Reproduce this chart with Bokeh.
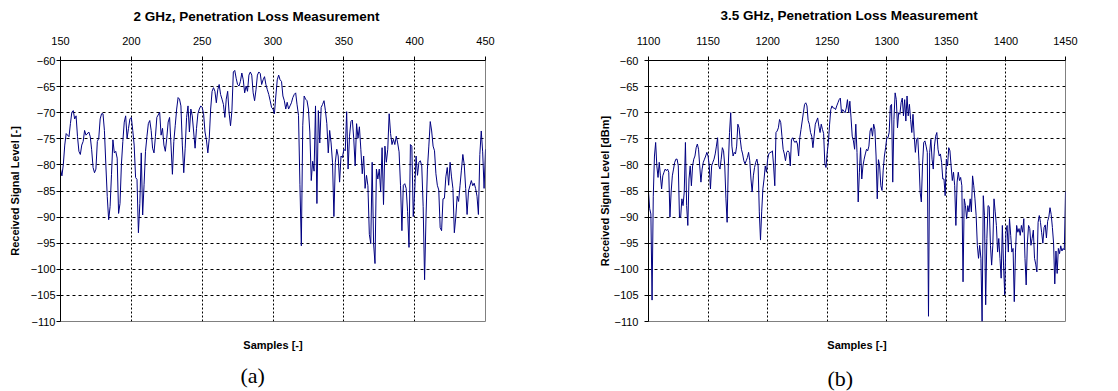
from bokeh.plotting import figure
from bokeh.layouts import row
from bokeh.models import FixedTicker, Range1d, LinearAxis, Title
from bokeh.embed import file_html
from bokeh.resources import INLINE

# ---------------- data ----------------
samples_a = [150,151,152,153,154,156,157,158,159,160,161,162,163,164,165,166,167,168,170,171,
             172,173,174,175,176,177,178,179,180,181,182,183,184,185,186,187,188,189,190,191,
             192,193,194,195,196,197,198,199,200,201,202,203,204,205,206,207,208,209,210,211,
             212,213,214,215,216,217,218,220,221,222,223,224,225,226,227,228,229,230,231,232,
             233,234,235,236,237,238,239,240,241,242,243,244,245,246,247,248,249,250,251,252,
             253,254,255,256,257,258,259,260,261,262,263,264,265,266,267,268,269,270,271,272,
             273,274,275,276,277,278,279,280,281,282,283,284,285,286,287,288,289,290,291,292,
             293,294,295,296,297,298,299,300,301,302,303,304,305,306,307,308,309,310,311,312,
             313,314,315,316,317,318,319,320,321,322,323,324,325,326,327,328,329,330,331,332,
             333,334,335,336,337,338,339,340,341,342,343,344,345,346,347,348,349,350,351,352,
             353,354,355,356,357,358,359,360,361,362,363,364,365,366,367,368,369,370,371,372,
             373,374,375,376,377,378,379,380,381,382,383,384,385,386,387,388,389,390,391,392,
             393,394,395,396,397,398,399,400,401,402,403,404,405,406,407,408,409,410,411,412,
             413,414,415,416,417,418,419,420,421,422,423,424,425,426,427,428,429,430,431,432,
             433,434,435,436,437,438,439,440,441,442,443,444,445,446,447,448,449,450]
level_a = [-80.8,-82.1,-79.9,-76.2,-74.0,-74.6,-72.1,-69.9,-69.6,-71.2,-70.6,-74.6,-77.4,-78.0,-76.2,-75.5,-73.4,-74.3,-73.7,-74.6,
           -77.1,-80.5,-81.5,-80.8,-75.5,-74.9,-71.2,-70.2,-70.2,-73.4,-79.9,-86.1,-90.5,-88.0,-81.8,-75.2,-77.7,-77.4,-78.7,-89.3,
           -87.4,-79.9,-75.5,-71.8,-70.6,-74.9,-73.0,-71.2,-70.9,-73.4,-76.2,-82.4,-82.8,-93.0,-87.4,-77.7,-89.6,-83.7,-77.4,-74.6,
           -72.1,-71.5,-73.4,-76.8,-77.7,-74.6,-70.9,-69.9,-74.3,-73.0,-76.2,-77.4,-74.9,-71.8,-70.9,-76.2,-81.8,-75.5,-72.4,-69.3,
           -67.1,-67.4,-68.7,-76.2,-81.5,-76.8,-70.9,-68.7,-73.7,-69.3,-70.6,-73.7,-76.8,-73.0,-70.2,-69.3,-68.7,-69.0,-70.2,-73.7,
           -75.2,-77.7,-74.9,-69.3,-65.9,-65.2,-65.9,-68.1,-65.6,-64.6,-66.5,-67.4,-68.4,-70.9,-67.4,-65.9,-70.0,-72.5,-69.6,-62.2,
           -61.9,-63.4,-64.6,-64.9,-64.0,-62.4,-63.7,-66.2,-64.9,-65.9,-62.8,-62.2,-62.8,-66.2,-67.7,-65.6,-62.8,-62.2,-62.5,-64.6,
           -63.7,-63.1,-64.6,-65.6,-66.5,-67.7,-69.0,-69.3,-70.2,-66.8,-63.7,-62.8,-63.7,-64.0,-66.8,-67.7,-69.3,-68.0,-69.3,-68.7,
           -68.1,-67.1,-66.5,-66.2,-68.5,-70.5,-83.7,-95.5,-72.4,-66.8,-67.4,-67.7,-69.3,-73.7,-83.0,-79.3,-81.2,-68.7,-87.4,-69.6,
           -75.8,-69.0,-68.4,-67.7,-69.6,-72.1,-77.7,-73.4,-75.8,-79.5,-89.9,-79.5,-77.0,-78.3,-83.3,-78.3,-78.6,-77.0,-77.3,-69.8,
           -80.8,-74.5,-71.7,-71.4,-75.0,-80.2,-72.1,-74.9,-72.7,-77.0,-81.7,-78.3,-84.5,-82.0,-84.0,-93.3,-95.1,-79.5,-95.1,-98.9,
           -80.8,-82.7,-80.8,-85.2,-76.7,-87.6,-76.4,-79.5,-77.0,-70.2,-74.0,-76.1,-75.1,-76.1,-74.5,-75.8,-77.5,-83.9,-92.6,-83.9,
           -83.6,-84.5,-88.9,-95.8,-76.1,-76.4,-89.9,-85.2,-78.3,-82.0,-79.5,-79.2,-80.2,-88.0,-102.0,-90.0,-80.8,-76.4,-71.7,-73.5,
           -76.4,-77.3,-81.7,-83.9,-84.8,-92.0,-92.6,-86.5,-86.4,-82.3,-80.5,-83.9,-79.5,-82.3,-84.5,-93.0,-90.0,-86.0,-87.0,-84.0,
           -81.0,-78.0,-80.0,-84.5,-89.5,-85.0,-84.0,-83.0,-84.0,-83.5,-84.5,-86.0,-89.5,-78.0,-73.5,-77.5,-84.5,-77.0]

samples_b = [1100,1101,1102,1103,1104,1105,1106,1107,1108,1109,1110,1111,1112,1113,1114,1115,1116,1117,1118,1119,
             1120,1121,1122,1123,1124,1125,1126,1127,1128,1129,1130,1131,1132,1133,1134,1135,1136,1137,1138,1139,
             1140,1141,1142,1143,1144,1145,1146,1147,1148,1149,1150,1151,1152,1153,1154,1155,1156,1157,1158,1159,
             1160,1161,1162,1163,1164,1165,1166,1167,1168,1169,1170,1171,1172,1173,1174,1175,1176,1177,1178,1179,
             1180,1181,1182,1183,1184,1185,1186,1187,1188,1189,1190,1191,1192,1193,1194,1195,1196,1197,1198,1199,
             1200,1201,1202,1203,1204,1205,1206,1207,1208,1209,1210,1211,1212,1213,1214,1215,1216,1217,1218,1219,
             1220,1221,1222,1223,1224,1225,1226,1227,1228,1230,1231,1232,1233,1234,1235,1236,1237,1238,1239,1240,
             1241,1242,1243,1244,1245,1246,1247,1248,1249,1250,1251,1252,1253,1254,1255,1256,1257,1258,1259,1260,
             1261,1262,1263,1264,1265,1266,1267,1268,1269,1270,1271,1272,1273,1274,1275,1276,1277,1278,1279,1280,
             1281,1282,1283,1284,1285,1286,1287,1288,1289,1290,1291,1292,1293,1294,1295,1296,1297,1298,1299,1300,
             1301,1302,1303,1304,1305,1306,1307,1308,1309,1310,1311,1312,1313,1314,1315,1316,1317,1318,1319,1320,
             1321,1322,1323,1324,1325,1326,1327,1328,1329,1330,1331,1332,1333,1334,1335,1336,1337,1338,1339,1340,
             1341,1342,1343,1344,1345,1346,1347,1348,1349,1350,1351,1352,1353,1354,1355,1356,1357,1358,1359,1360,
             1361,1362,1363,1364,1365,1366,1367,1368,1369,1370,1371,1372,1373,1374,1375,1376,1377,1378,1379,1380,
             1381,1382,1383,1384,1385,1386,1387,1388,1389,1390,1391,1392,1393,1394,1395,1396,1397,1398,1399,1400,
             1401,1402,1403,1404,1405,1406,1407,1408,1409,1410,1411,1412,1413,1414,1415,1416,1417,1418,1419,1420,
             1421,1422,1423,1424,1425,1426,1427,1428,1429,1430,1431,1432,1433,1434,1435,1436,1437,1438,1439,1440,
             1441,1442,1443,1444,1445,1446,1447,1448,1449,1450]
level_b = [-85.2,-88.4,-89.4,-105.9,-86.0,-78.3,-75.7,-80.2,-82.4,-79.5,-82.1,-84.6,-82.1,-81.4,-80.8,-81.1,-80.8,-81.4,-90.0,-85.2,
           -82.1,-80.8,-79.5,-78.9,-78.9,-80.2,-90.0,-90.0,-86.5,-87.8,-85.2,-75.7,-87.8,-91.6,-82.7,-80.2,-84.0,-80.2,-78.9,-78.3,
           -76.7,-76.0,-77.0,-80.2,-83.3,-80.8,-79.5,-78.9,-78.3,-77.6,-78.3,-80.2,-84.6,-80.2,-79.5,-78.9,-77.9,-76.4,-74.8,-80.2,
           -80.8,-78.9,-76.7,-77.3,-80.2,-86.5,-91.0,-80.0,-73.8,-70.0,-76.4,-78.3,-77.6,-77.9,-76.4,-72.2,-72.9,-75.1,-77.0,-77.9,
           -79.2,-79.8,-79.2,-78.6,-77.6,-79.2,-82.7,-85.2,-82.1,-80.5,-79.5,-78.9,-80.2,-89.0,-94.4,-89.0,-84.6,-82.7,-80.2,-81.4,
           -78.9,-77.9,-77.6,-77.6,-77.3,-80.2,-84.0,-73.8,-73.5,-72.9,-71.3,-71.9,-74.5,-77.0,-77.9,-79.2,-77.6,-77.3,-77.6,-80.2,
           -75.1,-74.8,-75.4,-75.7,-75.4,-76.0,-78.3,-74.8,-73.2,-70.0,-68.4,-68.1,-68.7,-71.5,-72.2,-73.8,-74.5,-76.7,-74.5,-72.2,
           -71.6,-71.0,-72.6,-73.8,-72.2,-73.2,-74.0,-79.8,-80.5,-77.6,-75.7,-72.2,-69.4,-68.7,-69.1,-69.1,-69.4,-68.7,-68.1,-67.5,
           -67.2,-70.0,-69.4,-69.7,-70.0,-69.1,-67.5,-70.0,-67.8,-71.0,-74.5,-75.4,-77.0,-72.2,-77.6,-87.1,-81.4,-76.7,-82.7,-80.2,
           -78.9,-77.9,-77.0,-77.3,-76.4,-73.5,-72.9,-74.5,-72.2,-73.2,-78.3,-86.5,-79.0,-80.2,-84.0,-84.9,-81.0,-78.3,-76.7,-74.8,
           -74.8,-73.8,-68.7,-68.4,-83.3,-71.3,-66.2,-67.5,-72.9,-70.0,-70.3,-68.1,-67.2,-70.6,-67.5,-71.6,-66.8,-70.6,-68.4,-71.3,
           -73.8,-70.3,-74.5,-77.6,-75.1,-74.8,-79.2,-85.2,-87.1,-80.0,-75.7,-75.4,-76.4,-77.6,-109.0,-77.6,-75.1,-78.9,-80.8,-76.4,
           -74.5,-73.8,-77.0,-78.3,-77.9,-79.5,-82.7,-82.7,-85.9,-78.9,-80.2,-76.7,-77.3,-80.2,-83.0,-81.4,-84.0,-91.6,-83.3,-81.4,
           -83.0,-82.4,-84.0,-102.4,-86.5,-87.8,-90.3,-87.8,-89.0,-86.5,-89.0,-82.1,-84.0,-86.5,-89.7,-95.4,-97.9,-95.4,-97.9,-110.0,
           -85.9,-89.7,-106.8,-94.1,-87.8,-88.0,-95.4,-99.2,-95.4,-86.5,-89.0,-91.6,-96.7,-94.1,-97.9,-101.7,-91.6,-99.2,-104.9,-92.9,
           -91.6,-96.7,-90.3,-93.5,-96.7,-96.0,-106.2,-96.7,-91.6,-92.9,-92.2,-93.5,-91.6,-92.9,-90.3,-97.9,-103.0,-95.0,-91.6,-92.2,
           -95.4,-94.1,-92.5,-97.9,-99.0,-100.5,-91.0,-89.7,-91.0,-93.0,-95.0,-92.0,-91.5,-94.0,-90.8,-90.0,-88.2,-89.5,-92.0,-95.0,
           -102.8,-96.5,-100.8,-96.0,-97.0,-95.5,-96.5,-96.0,-96.3,-85.1]

ticks_a = [150, 200, 250, 300, 350, 400, 450]
ticks_b = [1100, 1150, 1200, 1250, 1300, 1350, 1400, 1450]
level_ticks = [-60, -65, -70, -75, -80, -85, -90, -95, -100, -105, -110]

titles = ["2 GHz, Penetration Loss Measurement", "3.5 GHz, Penetration Loss Measurement"]
ylabels = ["Received Signal Level [-]", "Received Signal Level [dBm]"]
xlabel = "Samples [-]"
panel_tags = ["(a)", "(b)"]

FONT = "Liberation Sans"
SERIF = "Liberation Serif"


def spacer(k):
    return Title(text=" ", text_font_size="1px", standoff=k)


def panel(xs, ys, xticks, width, height, borders, cfg, title, ylabel, tag):
    left, right, top, bottom = borders
    p = figure(width=width, height=height, min_border_left=left, min_border_right=right,
               min_border_top=top, min_border_bottom=bottom, title_location=None,
               x_range=Range1d(xticks[0], xticks[-1]), y_range=Range1d(-110, -60),
               x_axis_location="above", output_backend="svg", toolbar_location=None)
    p.background_fill_color = "white"
    p.border_fill_color = "white"
    p.outline_line_color = "#808080"
    p.outline_line_width = 1

    p.xaxis.ticker = FixedTicker(ticks=xticks)
    p.yaxis.ticker = FixedTicker(ticks=level_ticks)
    for ax in (p.xaxis, p.yaxis):
        ax.axis_line_color = "black"
        ax.axis_line_width = 1
        ax.major_tick_line_color = "black"
        ax.major_tick_in = 0
        ax.major_tick_out = 4
        ax.minor_tick_line_color = None
        ax.minor_tick_in = 0
        ax.minor_tick_out = 0
        ax.major_label_text_font = FONT
        ax.major_label_text_font_size = "11px"
        ax.major_label_text_color = "black"
    p.xaxis.major_label_standoff = cfg["x_standoff"]
    p.yaxis.major_label_standoff = cfg["y_standoff"]
    p.yaxis.axis_label = ylabel
    p.yaxis.axis_label_standoff = cfg["ylabel_standoff"]
    p.yaxis.axis_label_text_font = FONT
    p.yaxis.axis_label_text_font_style = "bold"
    p.yaxis.axis_label_text_font_size = "11px"
    p.yaxis.axis_label_text_color = "black"

    p.xgrid.grid_line_color = "black"
    p.xgrid.grid_line_dash = "2 2"
    p.ygrid.grid_line_color = "black"
    p.ygrid.grid_line_dash = "3 3"

    p.line(xs, ys, line_color="#000080", line_width=1)

    # chart title above the top axis
    p.add_layout(spacer(cfg["top_gap"]), "above")
    p.add_layout(Title(text=title, align="left", offset=cfg["title_offset"],
                       vertical_align="top", standoff=-10, text_font=FONT,
                       text_font_style="bold", text_font_size="13.5px",
                       text_color="black"), "above")

    # x axis title below the plot
    xl = LinearAxis(ticker=FixedTicker(ticks=[]), axis_label=xlabel,
                    axis_line_color=None, major_tick_line_color=None,
                    minor_tick_line_color=None, major_tick_out=0, major_tick_in=0,
                    minor_tick_out=0, minor_tick_in=0, major_label_text_color=None,
                    major_label_standoff=0, axis_label_standoff=cfg["xlabel_standoff"],
                    axis_label_text_font=FONT, axis_label_text_font_style="bold",
                    axis_label_text_font_size="11px", axis_label_text_color="black")
    p.add_layout(xl, "below")

    # sub-figure tag
    p.add_layout(spacer(cfg["tag_gap"]), "below")
    p.add_layout(Title(text=tag, align="left", offset=cfg["tag_offset"],
                       vertical_align="top", standoff=-24, text_font=SERIF,
                       text_font_style="normal", text_font_size="22px",
                       text_color="black"), "below")
    return p


# page has no margin: canvas coordinates equal page coordinates
p1 = panel(samples_a, level_a, ticks_a, 556, 391, (60, 71, 60, 65),
           dict(x_standoff=12, y_standoff=1, ylabel_standoff=7, top_gap=10,
                title_offset=73, xlabel_standoff=17, tag_gap=18, tag_offset=180),
           titles[0], ylabels[0], panel_tags[0])
p2 = panel(samples_b, level_b, ticks_b, 562, 391, (92, 53, 59, 70),
           dict(x_standoff=12, y_standoff=6, ylabel_standoff=0, top_gap=11,
                title_offset=72, xlabel_standoff=17, tag_gap=21, tag_offset=179),
           titles[1], ylabels[1], panel_tags[1])

layout = row(p1, p2)
open("out.html", "w").write(file_html(layout, INLINE))
